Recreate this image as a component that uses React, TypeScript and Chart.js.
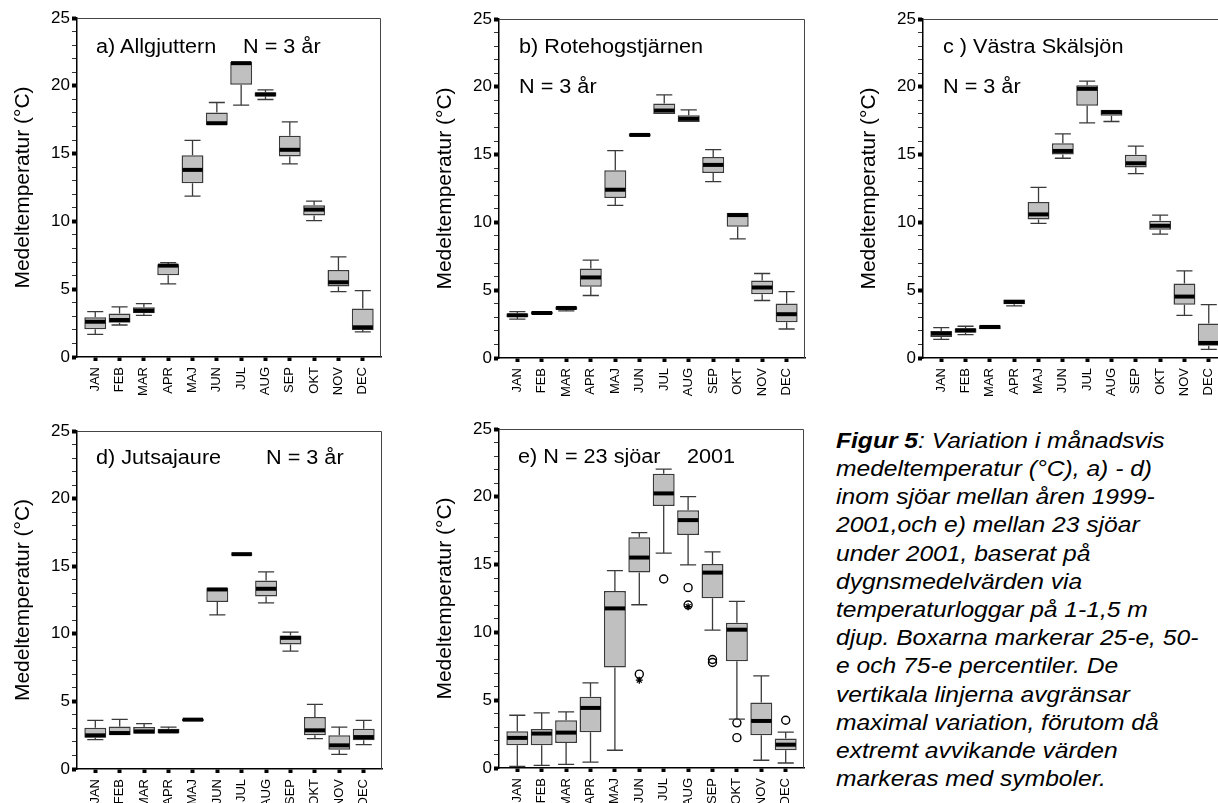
import React, { useEffect, useRef } from 'react';
import { Chart, registerables } from 'chart.js';

Chart.register(...registerables);

const FONT = "'Liberation Sans', Arial, sans-serif";
Chart.defaults.font.family = FONT;
Chart.defaults.color = '#000';

const MONTHS = ['JAN', 'FEB', 'MAR', 'APR', 'MAJ', 'JUN', 'JUL', 'AUG', 'SEP', 'OKT', 'NOV', 'DEC'];
const Y_LABELS = [0, 5, 10, 15, 20, 25];
const Y_MIN = 0;
const Y_MAX = 25;

// a) Allgjuttern
const A_MIN = [1.67, 2.36, 3.07, 5.39, 11.86, 17.1, 18.57, 18.99, 14.24, 10.06, 4.82, 1.85];
const A_Q1 = [2.04, 2.53, 3.22, 6.03, 12.82, 17.1, 20.07, 19.21, 14.78, 10.43, 5.19, 1.99];
const A_MED = [2.6, 2.73, 3.42, 6.74, 13.8, 17.24, 21.67, 19.36, 15.28, 10.87, 5.51, 2.19];
const A_Q3 = [2.93, 3.2, 3.67, 6.84, 14.88, 18.03, 21.77, 19.53, 16.31, 11.19, 6.42, 3.57];
const A_MAX = [3.35, 3.7, 3.94, 6.96, 15.97, 18.77, 21.77, 19.7, 17.34, 11.49, 7.38, 4.9];

// b) Rotehogstjärnen
const B_MIN = [2.86, 3.2, 3.47, 4.61, 11.26, 16.33, 17.96, 17.4, 13.0, 8.79, 4.24, 2.14];
const B_Q1 = [3.03, 3.22, 3.55, 5.25, 11.8, 16.33, 18.0, 17.41, 13.65, 9.68, 4.7, 2.64];
const B_MED = [3.15, 3.32, 3.69, 5.94, 12.41, 16.45, 18.25, 17.64, 14.24, 10.54, 5.2, 3.23];
const B_Q3 = [3.28, 3.42, 3.79, 6.6, 13.84, 16.55, 18.77, 17.91, 14.83, 10.71, 5.71, 4.01];
const B_MAX = [3.42, 3.45, 3.84, 7.22, 15.3, 16.55, 19.41, 18.3, 15.37, 10.71, 6.23, 4.9];

// c) Västra Skälsjön
const C_MIN = [1.38, 1.72, 2.12, 3.84, 9.93, 14.73, 17.34, 17.44, 13.6, 9.14, 3.15, 0.64];
const C_Q1 = [1.55, 1.87, 2.12, 3.97, 10.22, 15.0, 18.6, 17.86, 14.04, 9.46, 3.92, 0.91];
const C_MED = [1.8, 2.04, 2.29, 4.14, 10.59, 15.27, 19.85, 18.13, 14.36, 9.75, 4.53, 1.11];
const C_Q3 = [2.0, 2.19, 2.41, 4.31, 11.5, 15.84, 20.12, 18.3, 14.98, 10.12, 5.49, 2.54];
const C_MAX = [2.24, 2.34, 2.41, 4.35, 12.59, 16.53, 20.42, 18.3, 15.62, 10.54, 6.43, 3.94];

// d) Jutsajaure
const D_MIN = [2.17, 2.49, 2.61, 2.64, 3.55, 11.4, 15.84, 12.29, 8.72, 2.24, 1.08, 1.8];
const D_Q1 = [2.32, 2.49, 2.61, 2.64, 3.55, 12.36, 15.84, 12.76, 9.21, 2.49, 1.43, 2.12];
const D_MED = [2.49, 2.66, 2.78, 2.78, 3.65, 13.28, 15.89, 13.33, 9.7, 2.86, 1.75, 2.36];
const D_Q3 = [3.05, 3.15, 3.1, 2.98, 3.72, 13.4, 15.94, 13.94, 9.88, 3.84, 2.49, 2.98];
const D_MAX = [3.6, 3.67, 3.35, 3.1, 3.72, 13.4, 15.94, 14.58, 10.12, 4.78, 3.1, 3.6];

// e) N = 23 sjöar 2001
const E_MIN = [0.12, 0.2, 0.27, 0.44, 1.31, 12.04, 15.84, 14.98, 10.17, 3.6, 0.57, 0.37];
const E_Q1 = [1.67, 1.67, 1.85, 2.64, 7.41, 14.41, 19.33, 17.19, 12.51, 7.88, 2.41, 1.31];
const E_MED = [2.22, 2.54, 2.61, 4.43, 11.77, 15.52, 20.25, 18.28, 14.41, 10.2, 3.47, 1.72];
const E_Q3 = [2.71, 2.88, 3.52, 5.25, 13.05, 17.02, 21.7, 19.01, 15.05, 10.71, 4.83, 2.17];
const E_MAX = [3.89, 4.06, 4.14, 6.28, 14.56, 17.36, 22.04, 20.02, 15.94, 12.29, 6.8, 2.64];
// outliers in e): month number and value
const E_CIRCLE_MONTH = [6, 7, 8, 8, 9, 9, 10, 10, 12];
const E_CIRCLE_VALUE = [6.92, 13.94, 13.3, 12.02, 8.0, 7.78, 3.33, 2.24, 3.52];
const E_STAR_MONTH = [6, 8];
const E_STAR_VALUE = [6.48, 11.9];

const CAPTION_LINES = [
  'medeltemperatur (°C), a) - d)',
  'inom sjöar mellan åren 1999-',
  '2001,och e) mellan 23 sjöar',
  'under 2001, baserat på',
  'dygnsmedelvärden via',
  'temperaturloggar på 1-1,5 m',
  'djup. Boxarna markerar 25-e, 50-',
  'e och 75-e percentiler. De',
  'vertikala linjerna avgränsar',
  'maximal variation, förutom då',
  'extremt avvikande värden',
  'markeras med symboler.',
];

type Panel = {
  x0: number; x1: number; top: number; bottom: number;
  min: number[]; q1: number[]; med: number[]; q3: number[]; max: number[];
  circles?: { x: number; y: number }[];
  stars?: { x: number; y: number }[];
};

const PANELS: Panel[] = [
  { x0: 77, x1: 381, top: 18, bottom: 357, min: A_MIN, q1: A_Q1, med: A_MED, q3: A_Q3, max: A_MAX },
  { x0: 499, x1: 805, top: 19, bottom: 358, min: B_MIN, q1: B_Q1, med: B_MED, q3: B_Q3, max: B_MAX },
  { x0: 923, x1: 1227, top: 19, bottom: 358, min: C_MIN, q1: C_Q1, med: C_MED, q3: C_Q3, max: C_MAX },
  { x0: 77, x1: 382, top: 431, bottom: 769, min: D_MIN, q1: D_Q1, med: D_MED, q3: D_Q3, max: D_MAX },
  {
    x0: 499, x1: 804, top: 429, bottom: 768, min: E_MIN, q1: E_Q1, med: E_MED, q3: E_Q3, max: E_MAX,
    circles: E_CIRCLE_MONTH.map((m, i) => ({ x: m, y: E_CIRCLE_VALUE[i] })),
    stars: E_STAR_MONTH.map((m, i) => ({ x: m, y: E_STAR_VALUE[i] })),
  },
];

const PAD_L = 10.4;
const AXIS_W = 66.6;
const PAD_T = 20;
const PAD_R = 10;
const XAXIS_H = 45;

function makeBoxPlugin(p: Panel) {
  return {
    id: 'boxExtras',
    afterDatasetsDraw(chart: any) {
      const { ctx, chartArea: ca } = chart;
      const xs = chart.scales.x;
      const ys = chart.scales.y;
      ctx.save();
      ctx.strokeStyle = '#444';
      ctx.lineWidth = 1;
      ctx.beginPath();
      ctx.moveTo(ca.left, ca.top + 0.5);
      ctx.lineTo(ca.right - 0.5, ca.top + 0.5);
      ctx.lineTo(ca.right - 0.5, ca.bottom);
      ctx.stroke();
      for (let i = 0; i < MONTHS.length; i++) {
        const cx = xs.getPixelForValue(i + 1);
        const capHalf = xs.getPixelForValue(i + 1.33) - cx;
        const boxHalf = xs.getPixelForValue(i + 1.45) - cx;
        const yMax = ys.getPixelForValue(p.max[i]);
        const yQ3 = ys.getPixelForValue(p.q3[i]);
        const yQ1 = ys.getPixelForValue(p.q1[i]);
        const yMin = ys.getPixelForValue(p.min[i]);
        const yMed = ys.getPixelForValue(p.med[i]);
        ctx.strokeStyle = '#3a3a3a';
        ctx.lineWidth = 1.3;
        if (yQ3 - yMax > 0.8) {
          ctx.beginPath();
          ctx.moveTo(cx, yQ3);
          ctx.lineTo(cx, yMax);
          ctx.moveTo(cx - capHalf, yMax);
          ctx.lineTo(cx + capHalf, yMax);
          ctx.stroke();
        }
        if (yMin - yQ1 > 0.8) {
          ctx.beginPath();
          ctx.moveTo(cx, yQ1);
          ctx.lineTo(cx, yMin);
          ctx.moveTo(cx - capHalf, yMin);
          ctx.lineTo(cx + capHalf, yMin);
          ctx.stroke();
        }
        ctx.strokeStyle = '#000';
        ctx.lineWidth = 4;
        ctx.beginPath();
        ctx.moveTo(cx - boxHalf + 0.8, yMed);
        ctx.lineTo(cx + boxHalf - 0.8, yMed);
        ctx.stroke();
      }
      ctx.restore();
    },
  };
}

function BoxPanel({ p }: { p: Panel }) {
  const ref = useRef<HTMLCanvasElement | null>(null);
  const cw = Math.round(p.x1 - p.x0 + 77 + PAD_R);
  const ch = Math.round(p.bottom - p.top + PAD_T + XAXIS_H);
  useEffect(() => {
    if (!ref.current) return;
    const datasets: any[] = [
      {
        type: 'bar',
        data: MONTHS.map((_, i) => ({ x: i + 1, y: [p.q1[i], p.q3[i]] })),
        backgroundColor: '#c0c0c0',
        borderColor: '#3a3a3a',
        borderWidth: 1.5,
        borderSkipped: false,
        barPercentage: 0.9,
        categoryPercentage: 1,
      },
    ];
    if (p.circles) {
      datasets.push({
        type: 'scatter',
        data: p.circles,
        pointStyle: 'circle',
        pointRadius: 4,
        borderColor: '#000',
        backgroundColor: 'rgba(255,255,255,0)',
        borderWidth: 1.4,
      });
    }
    if (p.stars) {
      datasets.push({
        type: 'scatter',
        data: p.stars,
        pointStyle: 'star',
        pointRadius: 3.5,
        borderColor: '#000',
        backgroundColor: '#000',
        borderWidth: 1.3,
      });
    }
    const chart = new Chart(ref.current, {
      type: 'bar',
      data: { datasets },
      options: {
        responsive: false,
        animation: false,
        events: [],
        layout: { padding: { left: PAD_L, top: PAD_T, right: PAD_R, bottom: 0 } },
        plugins: { legend: { display: false }, tooltip: { enabled: false } },
        scales: {
          x: {
            type: 'linear',
            min: 0.25,
            max: 12.75,
            offset: false,
            afterBuildTicks: (s: any) => {
              s.ticks = MONTHS.map((_, i) => ({ value: i + 1 }));
            },
            afterFit: (s: any) => {
              s.height = XAXIS_H;
            },
            grid: {
              display: true,
              offset: false,
              drawOnChartArea: false,
              drawTicks: true,
              tickLength: 4,
              tickWidth: 4,
              tickColor: '#000',
            },
            border: { display: true, color: '#000', width: 1.5 },
            ticks: {
              autoSkip: false,
              maxRotation: 90,
              minRotation: 90,
              padding: 6,
              color: '#000',
              font: { size: 13, family: FONT },
              callback: (v: any) => MONTHS[Math.round(Number(v)) - 1] ?? '',
            },
          },
          y: {
            type: 'linear',
            min: Y_MIN,
            max: Y_MAX,
            afterFit: (s: any) => {
              s.width = AXIS_W;
            },
            grid: {
              display: true,
              drawOnChartArea: false,
              drawTicks: true,
              tickLength: 5,
              tickWidth: (c: any) => (Y_LABELS.includes(c.tick?.value) ? 4 : 1),
              tickColor: (c: any) => (Y_LABELS.includes(c.tick?.value) ? '#000' : '#333'),
            },
            border: { display: true, color: '#000', width: 1.5 },
            ticks: {
              stepSize: 1,
              autoSkip: false,
              padding: 2,
              color: '#000',
              font: { size: 17, family: FONT },
              callback: (v: any) => (Y_LABELS.includes(Number(v)) ? String(v) : ''),
            },
            title: {
              display: true,
              text: 'Medeltemperatur (°C)',
              color: '#000',
              font: { size: 21, family: FONT },
              padding: 0,
            },
          },
        },
      } as any,
      plugins: [makeBoxPlugin(p)],
    } as any);
    return () => chart.destroy();
  }, []);
  return (
    <canvas
      ref={ref}
      width={cw}
      height={ch}
      style={{ position: 'absolute', left: p.x0 - 77, top: p.top - PAD_T, width: cw, height: ch }}
    />
  );
}

function Label({ x, cy, size = 19.5, sx = 1.11, children, style }: any) {
  return (
    <div
      style={{
        position: 'absolute',
        left: x,
        top: cy - size * 0.6,
        fontSize: size,
        lineHeight: `${size * 1.2}px`,
        fontFamily: FONT,
        whiteSpace: 'pre',
        color: '#000',
        transform: `scaleX(${sx})`,
        transformOrigin: 'left center',
        ...style,
      }}
    >
      {children}
    </div>
  );
}

export default function App() {
  const capSize = 21.4;
  const capX = 835.7;
  const capY0 = 441.7;
  const capStep = 28.19;
  return (
    <div
      style={{
        position: 'fixed',
        left: 0,
        top: 0,
        width: 1218,
        height: 803,
        overflow: 'hidden',
        background: '#fff',
      }}
    >
      {PANELS.map((p, i) => (
        <BoxPanel key={i} p={p} />
      ))}
      <Label x={96} cy={46.5}>a) Allgjuttern</Label>
      <Label x={242.7} cy={46.5}>N = 3 år</Label>
      <Label x={519.3} cy={46.7}>b) Rotehogstjärnen</Label>
      <Label x={519.3} cy={87}>N = 3 år</Label>
      <Label x={942.7} cy={46.7}>c ) Västra Skälsjön</Label>
      <Label x={942.7} cy={87}>N = 3 år</Label>
      <Label x={96} cy={457.3}>d) Jutsajaure</Label>
      <Label x={266} cy={457.3}>N = 3 år</Label>
      <Label x={518.3} cy={456.7}>e) N = 23 sjöar</Label>
      <Label x={687.3} cy={456.7}>2001</Label>
      <Label x={capX} cy={capY0} size={capSize} sx={1.15} style={{ fontStyle: 'italic' }}>
        <b>Figur 5</b>: Variation i månadsvis
      </Label>
      {CAPTION_LINES.map((t, i) => (
        <Label key={i} x={capX} cy={capY0 + capStep * (i + 1)} size={capSize} sx={1.15} style={{ fontStyle: 'italic' }}>
          {t}
        </Label>
      ))}
    </div>
  );
}
